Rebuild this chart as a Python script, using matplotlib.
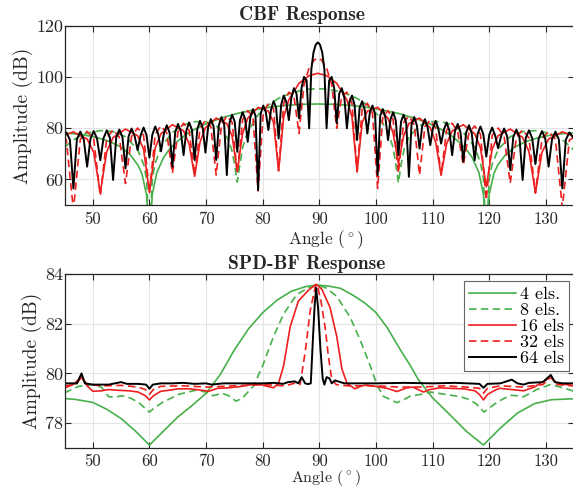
import matplotlib
matplotlib.use("Agg")
import matplotlib.pyplot as plt

plt.rcParams['font.family'] = ['cmr10', 'DejaVu Serif']
plt.rcParams['mathtext.fontset'] = 'cm'
plt.rcParams['axes.unicode_minus'] = False
plt.rcParams['axes.formatter.use_mathtext'] = True

# ---------------- data ----------------
labels = ['4 els.', '8 els.', '16 els', '32 els', '64 els']
x_ticks = [50, 60, 70, 80, 90, 100, 110, 120, 130]
cbf_yticks = [60, 80, 100, 120]
spd_yticks = [78, 80, 82, 84]

# CBF response (top)
cbf_ang_4 = [45.0, 47.0, 49.46, 51.0, 53.13, 55.0, 56.63, 58.0, 58.67, 59.5, 60.0, 60.5, 61.31, 62.5, 63.26,
             64.5, 66.42, 68.0, 69.51, 72.54, 75.52, 78.46, 81.37, 84.26, 87.13, 89.75, 92.37, 95.24, 98.13,
             101.04, 103.98, 106.96, 109.99, 111.5, 113.08, 115.0, 116.24, 117.0, 118.19, 119.0, 119.5, 120.0,
             120.83, 121.5, 122.87, 124.5, 126.37, 128.5, 130.04, 132.5, 134.5, 135.0]
cbf_4 = [78.1, 77.8, 77.0, 76.2, 74.7, 72.6, 69.6, 65.5, 62.2, 53.9, 35.0, 54.1, 62.7, 68.6, 71.0,
         74.1, 77.5, 79.6, 81.3, 83.9, 85.8, 87.2, 88.3, 89.0, 89.4, 89.5, 89.4, 89.0, 88.3,
         87.2, 85.8, 83.9, 81.3, 79.6, 77.5, 74.1, 71.0, 68.6, 62.7, 54.1, 35.0, 53.9,
         62.2, 65.5, 69.6, 72.6, 74.7, 76.2, 77.0, 77.8, 78.1, 78.2]

cbf_ang_8 = [45.0, 46.57, 48.0, 48.99, 51.32, 53.58, 55.77, 57.91, 59.0, 59.5, 60.0, 60.5, 61.0, 62.05,
             64.06, 66.03, 67.98, 69.89, 71.79, 73.67, 74.5, 75.0, 75.52, 76.0, 76.5, 77.36, 79.19, 80.0,
             81.01, 82.82, 84.62, 86.42, 88.21, 89.75, 91.29, 93.08, 94.88, 96.68, 98.49, 99.5, 100.31,
             102.14, 103.0, 103.5, 103.98, 104.5, 105.0, 105.83, 107.71, 109.61, 111.52, 113.47, 115.44,
             117.45, 118.5, 119.0, 119.5, 120.0, 120.5, 121.59, 123.73, 125.92, 128.18, 130.51, 131.5,
             132.93, 134.5, 135.0]
cbf_8 = [72.6, 75.5, 77.3, 78.1, 79.1, 78.7, 76.7, 71.7, 65.7, 59.9, 35.0, 60.2, 66.3, 72.6,
         78.4, 81.3, 82.6, 82.6, 81.0, 76.5, 71.9, 66.4, 59.0, 66.2, 72.7, 78.6, 85.2, 87.1,
         89.1, 91.7, 93.4, 94.6, 95.3, 95.5, 95.3, 94.6, 93.4, 91.7, 89.1, 87.1, 85.2,
         78.6, 72.7, 66.2, 58.7, 66.4, 71.9, 76.5, 81.0, 82.6, 82.6, 81.3, 78.4,
         72.6, 66.3, 60.2, 35.0, 59.9, 65.7, 71.7, 76.7, 78.7, 79.1, 78.1, 77.3,
         75.5, 72.6, 71.3]

cbf_ang_16 = [45.0, 46.57, 48.99, 50.16, 51.32, 52.46, 53.58, 55.77, 57.91, 58.96, 60.0, 61.03, 62.05,
              64.06, 66.03, 67.01, 67.98, 68.94, 69.89, 71.79, 73.67, 74.6, 75.52, 76.45, 77.36, 79.19,
              81.01, 81.92, 82.82, 83.72, 84.62, 86.42, 88.21, 89.75, 91.29, 93.08, 94.88, 95.78, 96.68,
              97.58, 98.49, 100.31, 102.14, 103.05, 103.98, 104.9, 105.83, 107.71, 109.61, 110.56,
              111.52, 112.49, 113.47, 115.44, 117.45, 118.47, 119.5, 120.54, 121.59, 123.73, 125.92,
              127.04, 128.18, 129.34, 130.51, 132.93, 134.5, 135.0]
cbf_16 = [77.3, 78.6, 75.8, 70.6, 54.8, 70.9, 76.4, 79.7, 77.1, 71.9, 54.8, 72.4, 77.9,
          81.4, 79.0, 73.9, 61.2, 74.6, 80.2, 84.0, 81.8, 77.0, 63.0, 78.0, 83.9, 88.2,
          86.7, 82.3, 63.4, 84.5, 91.1, 97.6, 100.6, 101.5, 100.6, 97.6, 91.1, 84.5, 63.0,
          82.3, 86.7, 88.2, 83.9, 78.0, 66.3, 77.0, 81.8, 84.0, 80.2, 74.6,
          61.7, 73.9, 79.0, 81.4, 77.9, 72.4, 57.1, 71.9, 77.1, 79.7, 76.4,
          70.9, 54.8, 70.6, 75.8, 78.6, 77.3, 76.4]

cbf_ang_32 = [45.0, 45.32, 46.57, 47.79, 48.99, 50.16, 51.32, 52.46, 53.58, 54.68,
              55.77, 56.85, 57.91, 58.96, 60.0, 61.03, 62.05, 63.06, 64.06, 65.05,
              66.03, 67.01, 67.98, 68.94, 69.89, 70.85, 71.79, 72.73, 73.67, 74.6,
              75.52, 76.45, 77.36, 78.28, 79.19, 80.1, 81.01, 81.92, 82.82, 83.72,
              84.62, 85.52, 86.42, 87.31, 88.21, 89.1, 89.75,
              90.4, 91.29, 92.19, 93.08, 93.98, 94.88, 95.78, 96.68, 97.58, 98.49,
              99.4, 100.31, 101.22, 102.14, 103.05, 103.98, 104.9, 105.83, 106.77, 107.71,
              108.65, 109.61, 110.56, 111.52, 112.49, 113.47, 114.45, 115.44, 116.44, 117.45,
              118.47, 119.5, 120.54, 121.59, 122.65, 123.73, 124.82, 125.92, 127.04, 128.18,
              129.34, 130.51, 131.71, 132.93, 134.18, 135.0]
cbf_32 = [76.8, 75.4, 48.0, 75.7, 78.8, 75.9, 53.5, 76.2, 79.4, 76.5,
          58.4, 76.9, 80.1, 77.3, 55.0, 77.7, 80.9, 78.2, 62.4, 78.7,
          82.0, 79.2, 61.7, 79.9, 83.2, 80.6, 61.7, 81.4, 84.8, 82.3,
          62.4, 83.3, 86.9, 84.5, 55.5, 85.9, 89.8, 87.6, 63.4, 89.8,
          94.1, 92.7, 78.0, 97.1, 103.6, 106.7, 107.5,
          106.7, 103.6, 97.1, 80.0, 92.7, 94.1, 89.8, 63.0, 87.6, 89.8,
          85.9, 56.5, 84.5, 86.9, 83.3, 62.4, 82.3, 84.8, 81.4, 61.7,
          80.6, 83.2, 79.9, 61.7, 79.2, 82.0, 78.7, 65.6, 78.2, 80.9,
          77.7, 51.9, 77.3, 80.1, 76.9, 58.5, 76.5, 79.4, 76.2, 54.6,
          75.9, 78.8, 75.7, 49.0, 75.4, 76.5]

cbf_ang_64 = [45.0, 45.32, 45.95, 46.57, 47.18, 47.79, 48.39, 48.99, 49.58, 50.16,
              50.74, 51.32, 51.89, 52.46, 53.02, 53.58, 54.13, 54.68, 55.23, 55.77,
              56.31, 56.85, 57.38, 57.91, 58.44, 58.96, 59.48, 60.0, 60.52, 61.03,
              61.54, 62.05, 62.56, 63.06, 63.56, 64.06, 64.56, 65.05, 65.54, 66.03,
              66.52, 67.01, 67.5, 67.98, 68.46, 68.94, 69.42, 69.89, 70.37, 70.85,
              71.32, 71.79, 72.26, 72.73, 73.2, 73.67, 74.14, 74.6, 75.06, 75.52,
              75.99, 76.45, 76.91, 77.36, 77.82, 78.28, 78.74, 79.19, 79.65, 80.1,
              80.56, 81.01, 81.47, 81.92, 82.37, 82.82, 83.27, 83.72, 84.17, 84.62,
              85.07, 85.52, 85.97, 86.42, 86.87, 87.31, 87.76, 88.21, 88.6, 88.98,
              89.37, 89.75,
              90.13, 90.52, 90.9, 91.29, 91.74, 92.19, 92.63, 93.08, 93.53, 93.98,
              94.43, 94.88, 95.33, 95.78, 96.23, 96.68, 97.13, 97.58, 98.03, 98.49,
              98.94, 99.4, 99.85, 100.31, 100.76, 101.22, 101.68, 102.14, 102.59, 103.05,
              103.51, 103.98, 104.44, 104.9, 105.36, 105.83, 106.3, 106.77, 107.24, 107.71,
              108.18, 108.65, 109.13, 109.61, 110.08, 110.56, 111.04, 111.52, 112.0, 112.49,
              112.98, 113.47, 113.96, 114.45, 114.94, 115.44, 115.94, 116.44, 116.94, 117.45,
              117.96, 118.47, 118.98, 119.5, 120.02, 120.54, 121.06, 121.59, 122.12, 122.65,
              123.19, 123.73, 124.27, 124.82, 125.37, 125.92, 126.48, 127.04, 127.61, 128.18,
              128.76, 129.34, 129.92, 130.51, 131.11, 131.71, 132.32, 132.93, 133.55, 134.18,
              135.0]
cbf_64 = [77.0, 78.4, 75.5, 56.5, 75.6, 78.7, 75.7, 65.0, 75.9, 78.9,
          76.0, 67.5, 76.1, 79.2, 76.3, 59.8, 76.4, 79.5, 76.6, 64.3,
          76.8, 79.9, 77.0, 71.5, 77.2, 80.3, 77.4, 68.5, 77.6, 80.7,
          77.8, 71.0, 78.0, 81.2, 78.3, 65.0, 78.5, 81.7, 78.8, 69.5,
          79.1, 82.3, 79.4, 67.6, 79.7, 82.9, 80.1, 70.5, 80.4, 83.6,
          80.8, 67.6, 81.2, 84.4, 81.6, 61.7, 82.1, 85.3, 82.6, 70.8,
          83.1, 86.3, 83.6, 74.7, 84.2, 87.5, 84.9, 55.8, 85.6, 88.9,
          86.3, 79.3, 87.2, 90.6, 88.1, 76.0, 89.2, 92.8, 90.4, 83.2,
          91.9, 95.7, 93.6, 83.9, 95.8, 100.1, 98.7, 80.0, 103.1, 109.7,
          112.7, 113.6,
          112.7, 109.7, 103.1, 80.0, 98.7, 100.1, 95.8, 82.0, 93.6, 95.7,
          91.9, 80.0, 90.4, 92.8, 89.2, 75.4, 88.1, 90.6, 87.2, 78.0,
          86.3, 88.9, 85.6, 61.7, 84.9, 87.5, 84.2, 75.4, 83.6, 86.3,
          83.1, 69.5, 82.6, 85.3, 82.1, 61.0, 81.6, 84.4, 81.2, 72.1,
          80.8, 83.6, 80.4, 73.4, 80.1, 82.9, 79.7, 74.0, 79.4, 82.3,
          79.1, 69.5, 78.8, 81.7, 78.5, 67.0, 78.3, 81.2, 78.0, 67.5,
          77.8, 80.7, 77.6, 68.9, 77.4, 80.3, 77.2, 72.2, 77.0, 79.9,
          76.8, 63.7, 76.6, 79.5, 76.4, 59.8, 76.3, 79.2, 76.1, 66.0,
          76.0, 78.9, 75.9, 65.0, 75.7, 78.7, 75.6, 56.5, 75.5, 78.4,
          76.0]

# SPD-BF response (bottom)
spd_ang_4 = [45, 47, 50, 52.5, 55, 57.5, 60, 62.5, 65, 67.5, 70, 72.5, 75, 77.5, 80, 82.5, 85, 87.5,
             89.5, 91.5, 93.7, 96, 98, 100, 102, 104.3, 106, 107.5, 110, 113, 116, 119, 122, 125,
             128, 131, 135]
spd_4 = [78.99, 78.95, 78.83, 78.55, 78.18, 77.68, 77.11, 77.68, 78.24, 78.7, 79.2, 79.95, 80.95,
         81.8, 82.45, 82.95, 83.31, 83.5, 83.57, 83.53, 83.44, 83.15, 82.85, 82.46, 81.85, 80.96,
         80.35, 79.75, 79.02, 78.35, 77.66, 77.11, 77.8, 78.4, 78.78, 78.94, 78.98]

spd_ang_8 = [45, 47.5, 50, 51.5, 52.8, 54, 55.2, 56.7, 58.1, 59.2, 60, 60.8, 62.3, 65.2, 68.1, 70,
             71.2, 72.8, 74, 75.3, 76.4, 77.4, 78.4, 80, 81.9, 83.7, 86, 88, 89.6, 91.2, 93.1,
             95.45, 97.2, 99, 100.2, 101.3, 102.5, 103.7, 105, 106, 107.8, 109.6, 111, 112.5,
             114.9, 116.5, 117.8, 119.1, 120.3, 121.5, 123.7, 125, 126.1, 128.4, 130.8, 133.1, 135]
spd_8 = [79.22, 79.48, 79.55, 79.45, 79.06, 79.05, 79.1, 79.0, 78.83, 78.6, 78.44, 78.6, 78.83,
         79.16, 79.32, 79.25, 79.1, 79.2, 79.1, 78.88, 79.0, 79.25, 79.5, 80.31, 81.48, 82.4,
         83.18, 83.45, 83.57, 83.45, 83.11, 82.27, 81.36, 80.31, 79.53, 79.08, 78.95, 78.82,
         78.95, 79.08, 79.15, 79.25, 79.2, 79.15, 79.06, 78.95, 78.76, 78.44, 78.65, 78.85,
         79.12, 79.1, 79.06, 79.35, 79.55, 79.42, 79.28]

spd_ang_16 = [45, 46.5, 48, 49, 50, 51.5, 52.8, 54.5, 56.4, 58, 59.3, 60, 60.7, 62, 63.4, 65, 67,
              69, 70.5, 72, 74, 76, 78, 79.6, 80.5, 81.9, 82.8, 83.7, 84.85, 86.3, 88.1, 89.45,
              90.45, 91.9, 93.1, 94.0, 94.9, 96.3, 97.5, 98.4, 100.7, 102, 103.7, 105.5, 106.5,
              108.4, 109.5, 111.3, 113, 115.5, 117.5, 118.3, 119, 119.7, 121, 121.9, 124, 126.1,
              128, 129, 130.9, 132, 133.7, 135]
spd_16 = [79.41, 79.55, 79.85, 79.5, 79.28, 79.3, 79.35, 79.32, 79.3, 79.25, 79.1, 78.93, 79.1,
          79.28, 79.32, 79.38, 79.38, 79.33, 79.28, 79.4, 79.42, 79.47, 79.55, 79.55, 79.5, 79.42,
          79.6, 80.31, 81.87, 82.92, 83.36, 83.6, 83.4, 82.66, 81.48, 80.18, 79.6, 79.38, 79.5,
          79.53, 79.45, 79.4, 79.27, 79.42, 79.45, 79.25, 79.35, 79.42, 79.4, 79.38, 79.3, 79.15,
          78.93, 79.15, 79.32, 79.4, 79.35, 79.3, 79.45, 79.6, 79.85, 79.6, 79.55, 79.5]

spd_ang_32 = [45, 47, 48, 49, 52, 55, 58, 59.3, 60, 60.7, 62, 66, 70, 75, 80, 84, 85.5, 86.6, 87.5,
              88.4, 89.3, 89.6, 90.3, 91.1, 91.6, 92.2, 93, 95, 100, 104, 108, 112, 116, 118.3,
              119, 119.7, 122, 126, 129.5, 130.9, 132, 135]
spd_32 = [79.5, 79.55, 79.85, 79.55, 79.5, 79.52, 79.45, 79.35, 79.16, 79.35, 79.48, 79.5, 79.45,
          79.5, 79.55, 79.5, 79.6, 79.55, 80.84, 82.53, 83.5, 83.6, 82.92, 81.75, 80.7, 79.77,
          79.55, 79.5, 79.5, 79.45, 79.45, 79.5, 79.45, 79.4, 79.2, 79.4, 79.5, 79.45, 79.55,
          79.85, 79.55, 79.5]

spd_ang_64 = [45, 47.2, 48, 48.6, 50, 52.8, 55, 56, 58, 59.4, 60, 60.6, 62, 64, 66, 68, 70, 71, 73,
              76, 80, 82, 83.6, 84.5, 85.7, 86.3, 86.9, 87.5, 88.0, 88.5, 88.9, 89.2, 89.45, 89.8,
              90.2, 90.6, 90.9, 91.3, 91.8, 92.2, 92.8, 93.7, 94.5, 96, 100, 105, 110, 114, 118.3,
              119, 119.7, 122, 124, 125, 126.1, 127, 129.5, 130.9, 131.6, 133, 135]
spd_64 = [79.6, 79.6, 80.0, 79.6, 79.55, 79.55, 79.65, 79.58, 79.58, 79.55, 79.38, 79.55, 79.6,
          79.6, 79.62, 79.58, 79.6, 79.55, 79.6, 79.6, 79.6, 79.62, 79.58, 79.65, 79.68, 79.6,
          79.85, 79.6, 79.57, 79.6, 81.5, 82.8, 83.45, 82.6, 81.0, 79.8, 79.55, 79.85, 79.8,
          79.6, 79.72, 79.65, 79.6, 79.6, 79.6, 79.62, 79.6, 79.62, 79.58, 79.42, 79.58, 79.6,
          79.75, 79.6, 79.55, 79.62, 79.65, 79.94, 79.65, 79.6, 79.6]

# ---------------- styling ----------------
GREEN = '#47B04B'
RED = '#EE1F1F'
DASH = (0, (4.5, 2.6))
styles = [(GREEN, '-', 1.2), (GREEN, DASH, 1.2), (RED, '-', 1.2), (RED, DASH, 1.2), ('black', '-', 1.4)]

cbf_series = [(cbf_ang_4, cbf_4), (cbf_ang_8, cbf_8), (cbf_ang_16, cbf_16),
              (cbf_ang_32, cbf_32), (cbf_ang_64, cbf_64)]
spd_series = [(spd_ang_4, spd_4), (spd_ang_8, spd_8), (spd_ang_16, spd_16),
              (spd_ang_32, spd_32), (spd_ang_64, spd_64)]

fig = plt.figure(figsize=(5.73, 4.91), dpi=100)
ax1 = fig.add_axes([0.1126, 0.5825, 0.8892, 0.3645])
ax2 = fig.add_axes([0.1126, 0.088, 0.8892, 0.3533])

TXT = '#262626'


def style_axes(ax, yticks, ylim, title, tx, xlab_y, xlab_size):
    ax.set_xlim(45, 135)
    ax.set_ylim(*ylim)
    ax.set_xticks(x_ticks)
    ax.set_xticklabels([str(v) for v in x_ticks])
    ax.set_yticks(yticks)
    ax.set_yticklabels([str(v) for v in yticks])
    ax.tick_params(direction='in', top=True, right=True, length=4, width=0.8, colors=TXT)
    ax.tick_params(axis='x', pad=4.5, labelsize=12)
    ax.tick_params(axis='y', pad=1.0, labelsize=13)
    ax.grid(True, color='#e4e4e4', lw=0.8)
    ax.set_axisbelow(True)
    for sp in ax.spines.values():
        sp.set_linewidth(0.9)
        sp.set_color(TXT)
    ax.set_title(title, fontfamily='cmb10', fontsize=14, x=tx, pad=4, color=TXT)
    ax.set_xlabel(r'Angle ($^\circ$)', fontsize=xlab_size, color=TXT)
    ax.xaxis.set_label_coords(0.512, xlab_y)
    ax.set_ylabel('Amplitude (dB)', fontsize=14, labelpad=2, color=TXT)


for (a, v), (c, ls, lw) in zip(cbf_series, styles):
    ax1.plot(a, v, color=c, linestyle=ls, lw=lw)
lines = []
for (a, v), (c, ls, lw), lab in zip(spd_series, styles, labels):
    ln, = ax2.plot(a, v, color=c, linestyle=ls, lw=lw, label=lab)
    lines.append(ln)

style_axes(ax1, cbf_yticks, (50, 120), 'CBF Response', 0.4666, -0.128, 12.5)
style_axes(ax2, spd_yticks, (77, 84), 'SPD-BF Response', 0.475, -0.118, 11.5)

leg = ax2.legend(handles=lines, loc='upper right', bbox_to_anchor=(0.99, 0.96),
                 borderaxespad=0, fontsize=13, handlelength=2.6, handletextpad=0.2,
                 borderpad=0.28, labelspacing=0.02, fancybox=False, framealpha=1,
                 edgecolor='#666666', facecolor='white')
leg.get_frame().set_linewidth(0.8)

fig.savefig('out.png', dpi=100)
